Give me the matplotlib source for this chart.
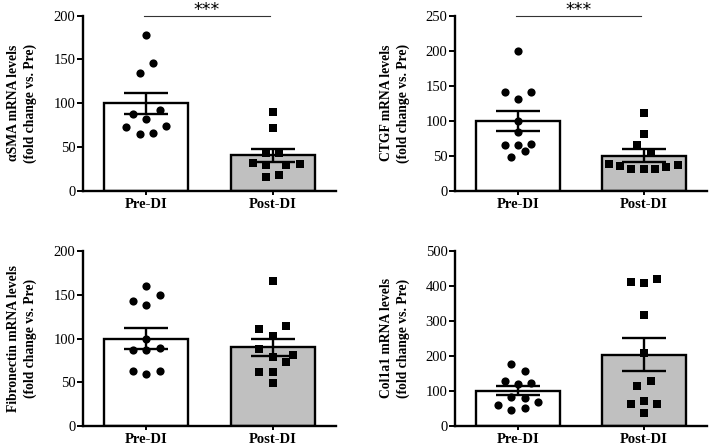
import numpy as np
import matplotlib.pyplot as plt

plt.rcParams['font.family'] = ['Liberation Serif', 'DejaVu Serif']

groups = ['Pre-DI', 'Post-DI']

# aSMA
sma_pre = [178, 146, 134, 92, 88, 82, 74.5, 73, 66.5, 65]
sma_pre_x = [0, 1, -1, 2, -2, 0, 3, -3, 1, -1]
sma_post = [90.5, 71.5, 43.7, 43.7, 31.6, 29.7, 29.7, 30.8, 16.3, 18.6]
sma_post_x = [0, 0, -1, 1, -3, -1, 2, 4, -1, 1]
sma_mean = [100, 40.7]
sma_sem = [12, 7.5]

# CTGF
ctgf_pre = [199, 141.6, 141.6, 131, 100, 84.6, 65.6, 65.6, 67, 57.5, 49]
ctgf_pre_x = [0, -2, 2, 0, 0, 0, -2, 0, 2, 1, -1]
ctgf_post = [111.7, 80.8, 65.6, 54.7, 38, 36, 31, 31, 31, 34, 37.5]
ctgf_post_x = [0, 0, -1, 1, -5.3, -3.6, -2, 0, 1.7, 3.3, 5.1]
ctgf_mean = [100, 50.2]
ctgf_sem = [14, 9]

# Fibronectin
fib_pre = [160.6, 150, 143.4, 138.8, 99.4, 86.8, 86.8, 89, 63, 60, 63]
fib_pre_x = [0, 2, -2, 0, 0, -2, 0, 2, -2, 0, 2]
fib_post = [165.6, 115, 110.5, 102.9, 87.6, 80.7, 78.8, 73.4, 62.3, 62.3, 48.6]
fib_post_x = [0, 2, -2, 0, -2, 3, 0, 2, -2, 0, 0]
fib_mean = [100, 90]
fib_sem = [12, 10]

# Col1a1
col_pre = [176.8, 156.8, 128, 119.8, 123.6, 83.7, 79, 59, 67.5, 51, 45.6]
col_pre_x = [-1, 1, -2, 0, 2, -1, 1, -3, 3, 1, -1]
col_post = [420, 411, 406, 315, 207, 129, 114, 63.7, 63.7, 71.3, 38]
col_post_x = [2, -2, 0, 0, 0, 1, -1, -2, 2, 0, 0]
col_mean = [100, 203]
col_sem = [13, 47]

STEP = 0.053


def draw_panel(ax, pre, pre_x, post, post_x, means, sems, ymax, ystep, ylabel, sig=False):
    xs = np.array([1, 2])
    ax.bar(xs, means, width=0.667, color=['white', '#c0c0c0'],
           edgecolor='black', linewidth=1.7, zorder=1)
    ax.errorbar(xs, means, yerr=sems, fmt='none', ecolor='black',
                elinewidth=1.7, capsize=16, capthick=1.7, zorder=2)
    ax.scatter(1 + np.array(pre_x) * STEP, pre, s=5.9**2, marker='o',
               color='black', linewidths=0, zorder=3, clip_on=False)
    ax.scatter(2 + np.array(post_x) * STEP, post, s=5.5**2, marker='s',
               color='black', linewidths=0, zorder=3, clip_on=False)

    ax.set_xlim(0.5, 2.5)
    ax.set_ylim(0, ymax)
    ax.set_yticks(np.arange(0, ymax + 1, ystep))
    ax.set_xticks(xs)
    ax.set_xticklabels(groups, fontweight='bold', fontsize=10.5)
    ax.tick_params(axis='y', labelsize=10.5, length=4, width=1.4, pad=1.5)
    ax.tick_params(axis='x', length=3, width=1.4, pad=2)
    for s in ['top', 'right']:
        ax.spines[s].set_visible(False)
    for s in ['left', 'bottom']:
        ax.spines[s].set_linewidth(1.7)
    ax.set_ylabel(ylabel, fontweight='bold', fontsize=9.8, linespacing=1.35)
    ax.yaxis.set_label_coords(-0.18, 0.5)

    if sig:
        ax.plot([0.98, 1.98], [ymax, ymax], color='#333333', lw=0.8, clip_on=False)
        ax.annotate('***', xy=(1.48, ymax), xytext=(0, -2.5),
                    textcoords='offset points', ha='center', va='bottom',
                    fontsize=12.5, family='DejaVu Sans', annotation_clip=False)


fig = plt.figure(figsize=(7.09, 4.45), dpi=100)
ax1 = fig.add_axes([0.117, 0.571, 0.357, 0.394])
ax2 = fig.add_axes([0.642, 0.571, 0.355, 0.394])
ax3 = fig.add_axes([0.117, 0.043, 0.357, 0.392])
ax4 = fig.add_axes([0.642, 0.043, 0.355, 0.394])

draw_panel(ax1, sma_pre, sma_pre_x, sma_post, sma_post_x, sma_mean, sma_sem,
           200, 50, 'αSMA mRNA levels\n(fold change vs. Pre)', sig=True)
draw_panel(ax2, ctgf_pre, ctgf_pre_x, ctgf_post, ctgf_post_x, ctgf_mean, ctgf_sem,
           250, 50, 'CTGF mRNA levels\n(fold change vs. Pre)', sig=True)
draw_panel(ax3, fib_pre, fib_pre_x, fib_post, fib_post_x, fib_mean, fib_sem,
           200, 50, 'Fibronectin mRNA levels\n(fold change vs. Pre)')
draw_panel(ax4, col_pre, col_pre_x, col_post, col_post_x, col_mean, col_sem,
           500, 100, 'Col1a1 mRNA levels\n(fold change vs. Pre)')

plt.savefig('out.png', dpi=100)
